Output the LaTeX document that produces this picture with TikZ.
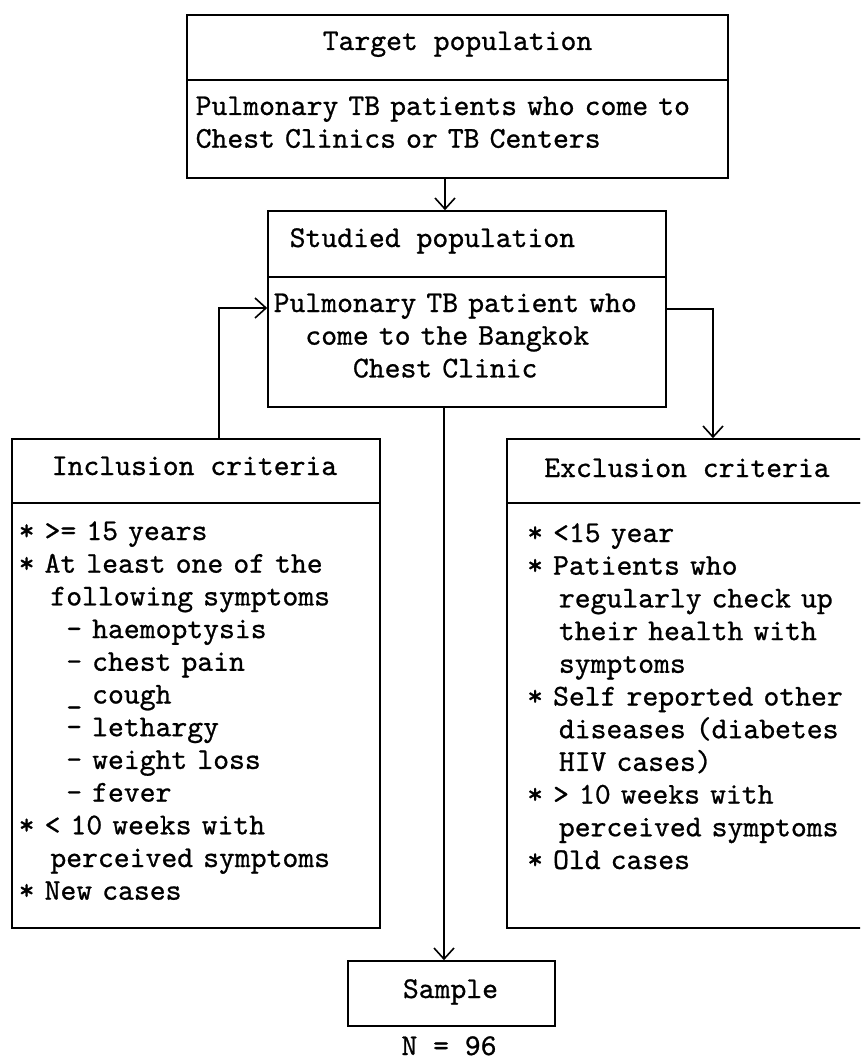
\documentclass[tikz,border=0pt]{standalone}
\usepackage{fontspec}
\newfontfamily\twfont[FakeBold=0.8]{lmmono10-regular.otf}
\usetikzlibrary{arrows.meta}
\begin{document}
\begin{tikzpicture}[x=1pt,y=-1pt,
  box/.style={draw, line width=1.6pt, inner sep=0pt},
  txt/.style={font=\twfont\fontsize{30.2}{32.7}\selectfont, inner sep=0pt},
  body/.style={txt, anchor=base west, align=left, text width=560pt},
  arr/.style={line width=1.6pt, -{Straight Barb[length=11pt,width=20pt,line width=1.6pt]}}
]
\useasboundingbox (0,0) rectangle (860,1062);
\clip (0,0) rectangle (860,1062);
% boxes
\node[box, minimum width=541pt, minimum height=65pt] (thead) at (457.5,47.5) {};
\node[box, minimum width=541pt, minimum height=98pt] (tbody) at (457.5,129) {};
\node[box, minimum width=398pt, minimum height=66pt] (shead) at (467,244) {};
\node[box, minimum width=398pt, minimum height=130pt] (sbody) at (467,342) {};
\node[box, minimum width=368pt, minimum height=64pt] (ihead) at (196,471) {};
\node[box, minimum width=368pt, minimum height=425pt] (ibody) at (196,715.5) {};
\node[box, minimum width=393pt, minimum height=64pt] (ehead) at (703.5,471) {};
\node[box, minimum width=393pt, minimum height=425pt] (ebody) at (703.5,715.5) {};
\node[box, minimum width=207pt, minimum height=65pt] (sample) at (451.5,993.5) {};
% texts
\node[txt, anchor=base] (tt) at (457.5,50) {Target population};
\node[body] (tb) at (195.5,115) {Pulmonary TB patients who come to\\Chest Clinics or TB Centers};
\node[txt, anchor=base west] (st) at (289.5,247) {Studied population};
\node[body] (sb) at (273.5,312) {Pulmonary TB patient who\\\hphantom{xx}come to the Bangkok\\\hphantom{xxxxx}Chest Clinic};
\node[txt, anchor=base] (it) at (194.5,475) {Inclusion criteria};
\node[body] (ib) at (18.5,540) {*~>=~15~years\\{}%
*~At least one of the\\{}%
\hphantom{xx}following symptoms\\{}%
\hphantom{xxx}-~haemoptysis\\{}%
\hphantom{xxx}-~chest pain\\{}%
\hphantom{xxx}\_~cough\\{}%
\hphantom{xxx}-~lethargy\\{}%
\hphantom{xxx}-~weight loss\\{}%
\hphantom{xxx}-~fever\\{}%
*~<~10 weeks with\\{}%
\hphantom{xx}perceived symptoms\\{}%
*~New cases};
\node[txt, anchor=base] (et) at (687,477) {Exclusion criteria};
\node[body] (eb) at (527,542) {*~<15 year\\{}%
*~Patients who\\{}%
\hphantom{xx}regularly check up\\{}%
\hphantom{xx}their health with\\{}%
\hphantom{xx}symptoms\\{}%
*~Self reported other\\{}%
\hphantom{xx}diseases (diabetes\\{}%
\hphantom{xx}HIV cases)\\{}%
*~>~10 weeks with\\{}%
\hphantom{xx}perceived symptoms\\{}%
*~Old cases};
\node[txt, anchor=base] (st2) at (450.5,998) {Sample};
\node[txt, anchor=base] (nn) at (449,1055) {N = 96};
% connectors
\draw[arr] ([xshift=-12.5pt]tbody.south) -- ([xshift=-12.5pt]tbody.south |- shead.north);
\draw[arr] ([xshift=-23pt]sbody.south) -- ([xshift=-23pt]sbody.south |- sample.north);
\draw[arr] ([xshift=23pt]ihead.north) |- ([yshift=34pt]sbody.west);
\draw[arr] ([yshift=33pt]sbody.east) -| ([xshift=9.5pt]ehead.north);
\end{tikzpicture}
\end{document}
